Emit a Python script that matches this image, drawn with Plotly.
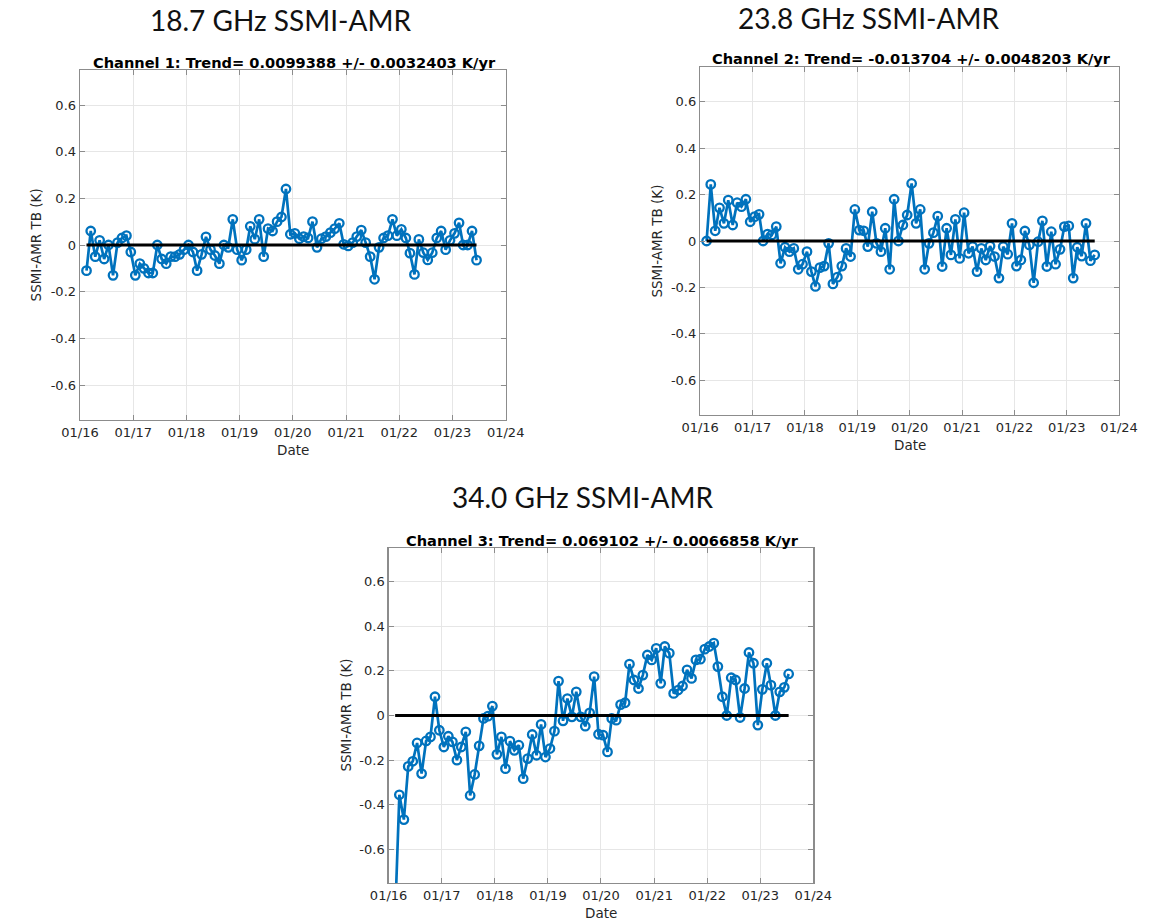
import plotly.graph_objects as go

# ---------------- data ----------------
start_year = 2016
start_month = 2  # first sample: mid-February 2016, monthly samples

ch1_values = [
    -0.11, 0.06, -0.05, 0.02, -0.06, 0.00, -0.13, 0.01, 0.03, 0.04,
    -0.03, -0.13, -0.08, -0.10, -0.12, -0.12, 0.00, -0.06, -0.08, -0.05,
    -0.05, -0.04, -0.02, 0.00, -0.03, -0.11, -0.04, 0.035, -0.02, -0.045,
    -0.08, 0.00, -0.01, 0.11, -0.02, -0.065, -0.02, 0.08, 0.025, 0.11,
    -0.05, 0.07, 0.06, 0.10, 0.12, 0.24, 0.046, 0.05, 0.027, 0.036,
    0.03, 0.10, -0.01, 0.027, 0.036, 0.053, 0.07, 0.093, 0.003, -0.004,
    0.01, 0.036, 0.064, 0.01, -0.05, -0.147, -0.01, 0.03, 0.04, 0.11,
    0.04, 0.067, 0.03, -0.035, -0.126, 0.024, -0.033, -0.064, -0.033, 0.03,
    0.06, -0.02, 0.02, 0.05, 0.095, 0.0, 0.0, 0.06, -0.065,
]

ch2_values = [
    0.0, 0.244, 0.044, 0.143, 0.076, 0.176, 0.069, 0.165, 0.148, 0.18,
    0.083, 0.105, 0.115, 0.0, 0.03, 0.026, 0.062, -0.096, -0.027, -0.046,
    -0.032, -0.122, -0.1, -0.046, -0.132, -0.196, -0.115, -0.108, -0.01, -0.185,
    -0.156, -0.108, -0.032, -0.067, 0.136, 0.047, 0.044, -0.024, 0.126, -0.01,
    -0.046, 0.055, -0.122, 0.18, 0.0, 0.069, 0.112, 0.248, 0.076, 0.136,
    -0.122, -0.01, 0.036, 0.107, -0.11, 0.055, -0.06, 0.093, -0.075, 0.122,
    -0.053, -0.024, -0.132, -0.032, -0.082, -0.022, -0.067, -0.16, -0.024, -0.057,
    0.076, -0.108, -0.082, 0.043, -0.017, -0.18, -0.003, 0.087, -0.11, 0.04,
    -0.1, -0.036, 0.062, 0.065, -0.16, -0.027, -0.065, 0.076, -0.085, -0.06,
]

ch3_values = [
    -0.9, -0.355, -0.466, -0.228, -0.205, -0.123, -0.26, -0.114, -0.096, 0.084,
    -0.066, -0.141, -0.093, -0.118, -0.2, -0.141, -0.073, -0.358, -0.264, -0.136,
    -0.013, -0.003, 0.042, -0.174, -0.096, -0.238, -0.115, -0.156, -0.133, -0.283,
    -0.193, -0.085, -0.178, -0.04, -0.186, -0.148, -0.07, 0.154, -0.024, 0.076,
    -0.006, 0.106, -0.006, -0.048, 0.012, 0.174, -0.084, -0.088, -0.163, -0.013,
    -0.021, 0.049, 0.057, 0.23, 0.159, 0.121, 0.181, 0.271, 0.249, 0.301,
    0.144, 0.309, 0.279, 0.099, 0.114, 0.132, 0.204, 0.166, 0.249, 0.252,
    0.297, 0.309, 0.324, 0.219, 0.084, 0.0, 0.169, 0.159, -0.009, 0.121,
    0.282, 0.234, -0.043, 0.117, 0.234, 0.136, 0.0, 0.106, 0.126, 0.186,
]

big_titles = ["18.7 GHz SSMI-AMR", "23.8 GHz SSMI-AMR", "34.0 GHz SSMI-AMR"]
sub_titles = [
    "Channel 1: Trend= 0.0099388 +/- 0.0032403 K/yr",
    "Channel 2: Trend= -0.013704 +/- 0.0048203 K/yr",
    "Channel 3: Trend= 0.069102 +/- 0.0066858 K/yr",
]
x_tick_years = [2016, 2017, 2018, 2019, 2020, 2021, 2022, 2023, 2024]
x_tick_labels = ["01/16", "01/17", "01/18", "01/19", "01/20", "01/21", "01/22", "01/23", "01/24"]
y_tick_vals = [-0.6, -0.4, -0.2, 0, 0.2, 0.4, 0.6]
y_tick_labels = ["-0.6", "-0.4", "-0.2", "0", "0.2", "0.4", "0.6"]
x_label = "Date"
y_label = "SSMI-AMR TB (K)"


def month_dates(n, y0=start_year, m0=start_month):
    out = []
    y, m = y0, m0
    for _ in range(n):
        out.append(f"{y}-{m:02d}-15")
        m += 1
        if m > 12:
            m = 1
            y += 1
    return out


# ---------------- layout geometry (pixels) ----------------
W, H = 1171, 922
# (left, right, top, bottom) of each plot box in pixels
boxes = [(63, 503, 70, 420), (704, 1137, 67, 415), (382, 821, 548, 883)]
big_title_pos = [(270, 20), (878, 18), (582, 497)]

BLUE = "#0072BD"
AX_COLOR = "#8c8c8c"
TXT = "#262626"
TICK_FONT = dict(family="DejaVu Sans", size=13, color=TXT)

fig = go.Figure()
series = [ch1_values, ch2_values, ch3_values]
annotations = []

for k, vals in enumerate(series):
    n = k + 1
    xa = "x" if n == 1 else f"x{n}"
    ya = "y" if n == 1 else f"y{n}"
    dates = month_dates(len(vals))
    fig.add_trace(go.Scatter(
        x=dates, y=vals, mode="lines+markers", xaxis=xa, yaxis=ya,
        line=dict(color=BLUE, width=2.7),
        marker=dict(symbol="circle-open", size=8.5, color=BLUE, line=dict(width=2.3, color=BLUE)),
        showlegend=False, hoverinfo="skip",
    ))
    fig.add_trace(go.Scatter(
        x=[dates[0], dates[-1]], y=[0, 0], mode="lines", xaxis=xa, yaxis=ya,
        line=dict(color="black", width=3.2), showlegend=False, hoverinfo="skip",
    ))

    L, R, T, B = boxes[k]
    xdom = [L / W, R / W]
    ydom = [1 - B / H, 1 - T / H]
    axis_common = dict(
        showline=True, mirror="ticks", linecolor=AX_COLOR, linewidth=1.3,
        ticks="inside", ticklen=5, tickcolor=AX_COLOR, tickwidth=1,
        showgrid=True, gridcolor="#e6e6e6", gridwidth=1, zeroline=False,
        tickfont=TICK_FONT,
    )
    fig.update_layout(**{
        ("xaxis" if n == 1 else f"xaxis{n}"): dict(
            domain=xdom, anchor=ya, type="date",
            range=[f"{x_tick_years[0]}-01-01", f"{x_tick_years[-1]}-01-01"],
            tickvals=[f"{yr}-01-01" for yr in x_tick_years], ticktext=x_tick_labels,
            **axis_common),
        ("yaxis" if n == 1 else f"yaxis{n}"): dict(
            domain=ydom, anchor=xa, range=[-0.75, 0.75],
            tickvals=y_tick_vals, ticktext=y_tick_labels, **axis_common),
    })

    cx = (L + R) / 2
    cy = (T + B) / 2
    # big slide-like title
    bx, by = big_title_pos[k]
    annotations.append(dict(text=big_titles[k], x=bx / W, y=1 - by / H, xref="paper", yref="paper",
                            xanchor="center", yanchor="middle", showarrow=False,
                            font=dict(family="Lato", size=28, color="#111111")))
    # bold channel subtitle
    annotations.append(dict(text=f"<b>{sub_titles[k]}</b>", x=(cx + 2) / W, y=1 - (T - 8) / H,
                            xref="paper", yref="paper", xanchor="center", yanchor="middle",
                            showarrow=False, font=dict(family="DejaVu Sans", size=14.6, color="#000000")))
    # x label
    annotations.append(dict(text=x_label, x=cx / W, y=1 - (B + 30) / H, xref="paper", yref="paper",
                            xanchor="center", yanchor="middle", showarrow=False,
                            font=dict(family="DejaVu Sans", size=13.5, color=TXT)))
    # y label
    annotations.append(dict(text=y_label, x=(L - 45) / W, y=1 - cy / H, xref="paper", yref="paper",
                            xanchor="center", yanchor="middle", textangle=-90, showarrow=False,
                            font=dict(family="DejaVu Sans", size=13.5, color=TXT)))

fig.update_layout(
    width=W, height=H, margin=dict(l=0, r=0, t=0, b=0),
    paper_bgcolor="white", plot_bgcolor="white",
    annotations=annotations,
)

fig.write_html(
    "out.html",
    config={"displayModeBar": False, "staticPlot": True},
    post_script="document.body.style.margin='0';document.body.style.padding='0';"
                "document.documentElement.style.overflow='hidden';",
)
